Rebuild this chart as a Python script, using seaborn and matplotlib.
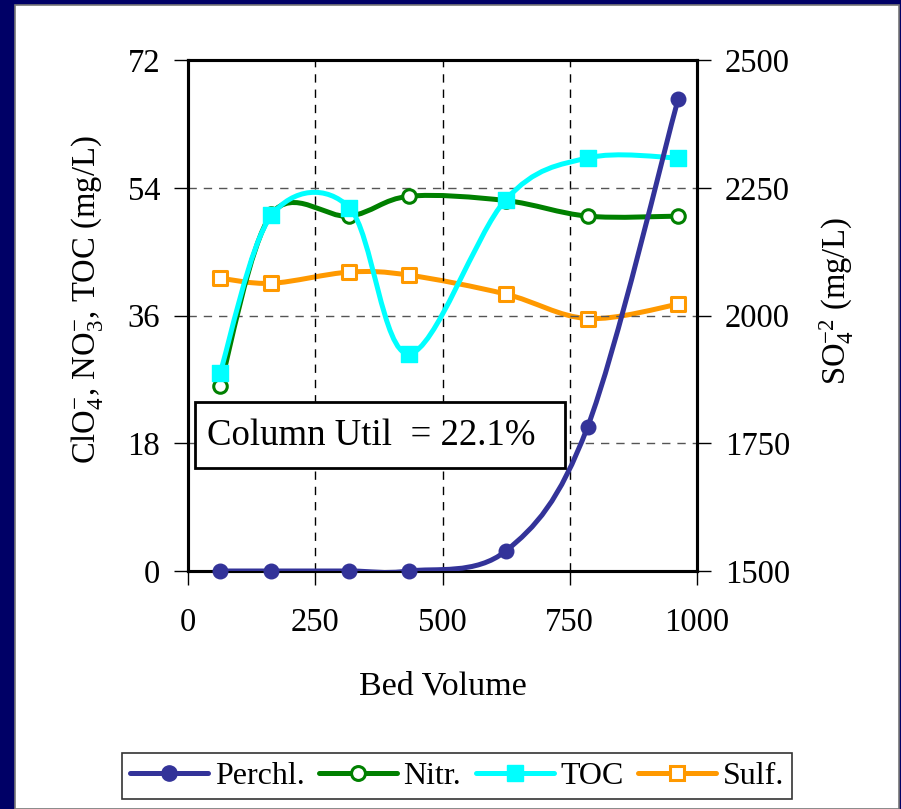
import numpy as np
import matplotlib
matplotlib.use("Agg")
import matplotlib.pyplot as plt
import seaborn as sns
from matplotlib.path import Path
from matplotlib.patches import PathPatch, Rectangle
from matplotlib.lines import Line2D

# Breakthrough data
bed_volume = [63, 164, 317, 434, 624, 785, 963]
perchlorate = [0.0, 0.0, 0.0, 0.0, 2.8, 20.3, 66.5]
nitrate = [26.0, 50.3, 50.0, 52.8, 52.2, 50.0, 50.0]
toc = [27.9, 50.1, 51.2, 30.6, 52.3, 58.2, 58.2]
sulfate = [2073, 2063, 2085, 2079, 2042, 1994, 2022]

series_names = ["Perchl.", "Nitr.", "TOC", "Sulf."]
x_ticks = [0, 250, 500, 750, 1000]
left_ticks = [0, 18, 36, 54, 72]
right_ticks = [1500, 1750, 2000, 2250, 2500]
util_text = "Column Util  = 22.1%"

NAVY = "#333399"
GREEN = "#008000"
CYAN = "#00FFFF"
ORANGE = "#FF9900"

sns.set_style("ticks")
plt.rcParams["font.family"] = ["Liberation Serif", "DejaVu Serif"]
plt.rcParams["mathtext.fontset"] = "custom"
plt.rcParams["mathtext.rm"] = "Liberation Serif"
plt.rcParams["mathtext.it"] = "Liberation Serif:italic"
plt.rcParams["mathtext.bf"] = "Liberation Serif:bold"
plt.rcParams["axes.edgecolor"] = "black"
plt.rcParams["xtick.color"] = "black"
plt.rcParams["ytick.color"] = "black"
plt.rcParams["text.color"] = "black"
plt.rcParams["axes.labelcolor"] = "black"


def smooth_path(x, y):
    """Cubic Bezier path through the points (Catmull-Rom style smoothing)."""
    pts = np.column_stack([np.asarray(x, float), np.asarray(y, float)])
    n = len(pts)
    verts = [pts[0]]
    codes = [Path.MOVETO]
    for i in range(n - 1):
        p0 = pts[i - 1] if i > 0 else pts[i]
        p1 = pts[i]
        p2 = pts[i + 1]
        p3 = pts[i + 2] if i + 2 < n else pts[i + 1]
        c1 = p1 + (p2 - p0) / 6.0
        c2 = p2 - (p3 - p1) / 6.0
        verts += [c1, c2, p2]
        codes += [Path.CURVE4] * 3
    return Path(verts, codes)


def draw_curve(ax, x, y, color, z):
    patch = PathPatch(smooth_path(x, y), fill=False, edgecolor=color,
                      linewidth=3.6, capstyle="round", joinstyle="round",
                      transform=ax.transData, zorder=z)
    ax.add_patch(patch)


fig = plt.figure(figsize=(9.01, 8.09), dpi=100, facecolor="#000066")
panel = Rectangle((15 / 901, 0), (899 - 15) / 901, (809 - 5) / 809,
                  transform=fig.transFigure, facecolor="white",
                  edgecolor="#777777", linewidth=1.2, zorder=-10)
fig.patches.append(panel)

ax = fig.add_axes([188 / 901, 238 / 809, 509 / 901, 511 / 809])
ax2 = ax.twinx()
ax.set_zorder(ax2.get_zorder() + 1)
ax.patch.set_visible(False)
ax2.set_facecolor("white")

# Sulfate on the secondary axis
draw_curve(ax2, bed_volume, sulfate, ORANGE, 2)
sns.scatterplot(x=bed_volume, y=sulfate, ax=ax2, marker="s", s=95,
                color="white", edgecolor=ORANGE, linewidth=2.2, zorder=3,
                legend=False)

# Primary axis series
draw_curve(ax, bed_volume, nitrate, GREEN, 3)
sns.scatterplot(x=bed_volume, y=nitrate, ax=ax, marker="o", s=95,
                color="white", edgecolor=GREEN, linewidth=2.2, zorder=4,
                legend=False)
draw_curve(ax, bed_volume, toc, CYAN, 5)
sns.scatterplot(x=bed_volume, y=toc, ax=ax, marker="s", s=120,
                color=CYAN, edgecolor=CYAN, linewidth=1, zorder=6,
                legend=False)
draw_curve(ax, bed_volume, perchlorate, NAVY, 7)
sns.scatterplot(x=bed_volume, y=perchlorate, ax=ax, marker="o", s=110,
                color=NAVY, edgecolor=NAVY, linewidth=1, zorder=8,
                legend=False, clip_on=False)

ax.set_xlim(0, 1000)
ax.set_ylim(0, 72)
ax2.set_ylim(1500, 2500)
ax.set_xticks(x_ticks)
ax.set_yticks(left_ticks)
ax2.set_yticks(right_ticks)
ax.set_xticklabels([str(v) for v in x_ticks])
ax.set_yticklabels([str(v) for v in left_ticks])
ax2.set_yticklabels([str(v) for v in right_ticks])

# Grid: vertical black dashes, horizontal gray dashes
for xv in x_ticks[1:-1]:
    ax.axvline(xv, color="black", linewidth=1.0, dashes=(6, 5), zorder=1)
for yv in left_ticks[1:-1]:
    ax.axhline(yv, color="#555555", linewidth=1.0, dashes=(6, 5), zorder=1)

for a in (ax, ax2):
    for sp in a.spines.values():
        sp.set_visible(True)
        sp.set_linewidth(2.2)
        sp.set_color("black")
ax.tick_params(axis="both", direction="out", length=10, width=1.0,
               labelsize=23.5, pad=10)
ax.tick_params(axis="x", pad=16)
ax2.tick_params(axis="y", direction="out", length=10, width=1.0,
                labelsize=23.5, pad=10)

ax.set_xlabel("Bed Volume", fontsize=24.5)
ax.xaxis.label.set_va("center")
ax.xaxis.set_label_coords(0.5, -(686 - 571) / 511)

ax.set_ylabel("ClO$_4^{-}$, NO$_3^{-}$, TOC (mg/L)", fontsize=23.5)
ax.yaxis.label.set_va("center")
ax.yaxis.set_label_coords((87 - 188) / 509, (571 - 300) / 511)

ax2.set_ylabel("SO$_4^{-2}$ (mg/L)", fontsize=23.5)
ax2.yaxis.label.set_va("center")
ax2.yaxis.set_label_coords((837 - 188) / 509, (571 - 301) / 511)

# Annotation box
box = Rectangle(((195 - 188) / 509, (571 - 468) / 511), 370 / 509, 66 / 511,
                transform=ax.transAxes, facecolor="white", edgecolor="black",
                linewidth=2.0, zorder=9)
ax.add_patch(box)
ax.text((207 - 188) / 509, (571 - 436) / 511, util_text, transform=ax.transAxes,
        fontsize=26.5, ha="left", va="center", zorder=10)

handles = [
    Line2D([], [], color=NAVY, lw=3.6, marker="o", markersize=11,
           markerfacecolor=NAVY, markeredgecolor=NAVY),
    Line2D([], [], color=GREEN, lw=3.6, marker="o", markersize=10,
           markerfacecolor="white", markeredgecolor=GREEN, markeredgewidth=2.2),
    Line2D([], [], color=CYAN, lw=3.6, marker="s", markersize=11,
           markerfacecolor=CYAN, markeredgecolor=CYAN),
    Line2D([], [], color=ORANGE, lw=3.6, marker="s", markersize=10,
           markerfacecolor="white", markeredgecolor=ORANGE, markeredgewidth=2.2),
]
leg = fig.legend(handles, series_names, loc="center left", ncol=4,
                 bbox_to_anchor=(122 / 901, 1 - 776 / 809), fontsize=23,
                 frameon=True, fancybox=False, handlelength=2.45,
                 handletextpad=0.2, columnspacing=0.45, borderpad=0.25,
                 borderaxespad=0)
leg.get_frame().set_edgecolor("black")
leg.get_frame().set_linewidth(1.2)

fig.savefig("out.png", dpi=100, facecolor=fig.get_facecolor())
